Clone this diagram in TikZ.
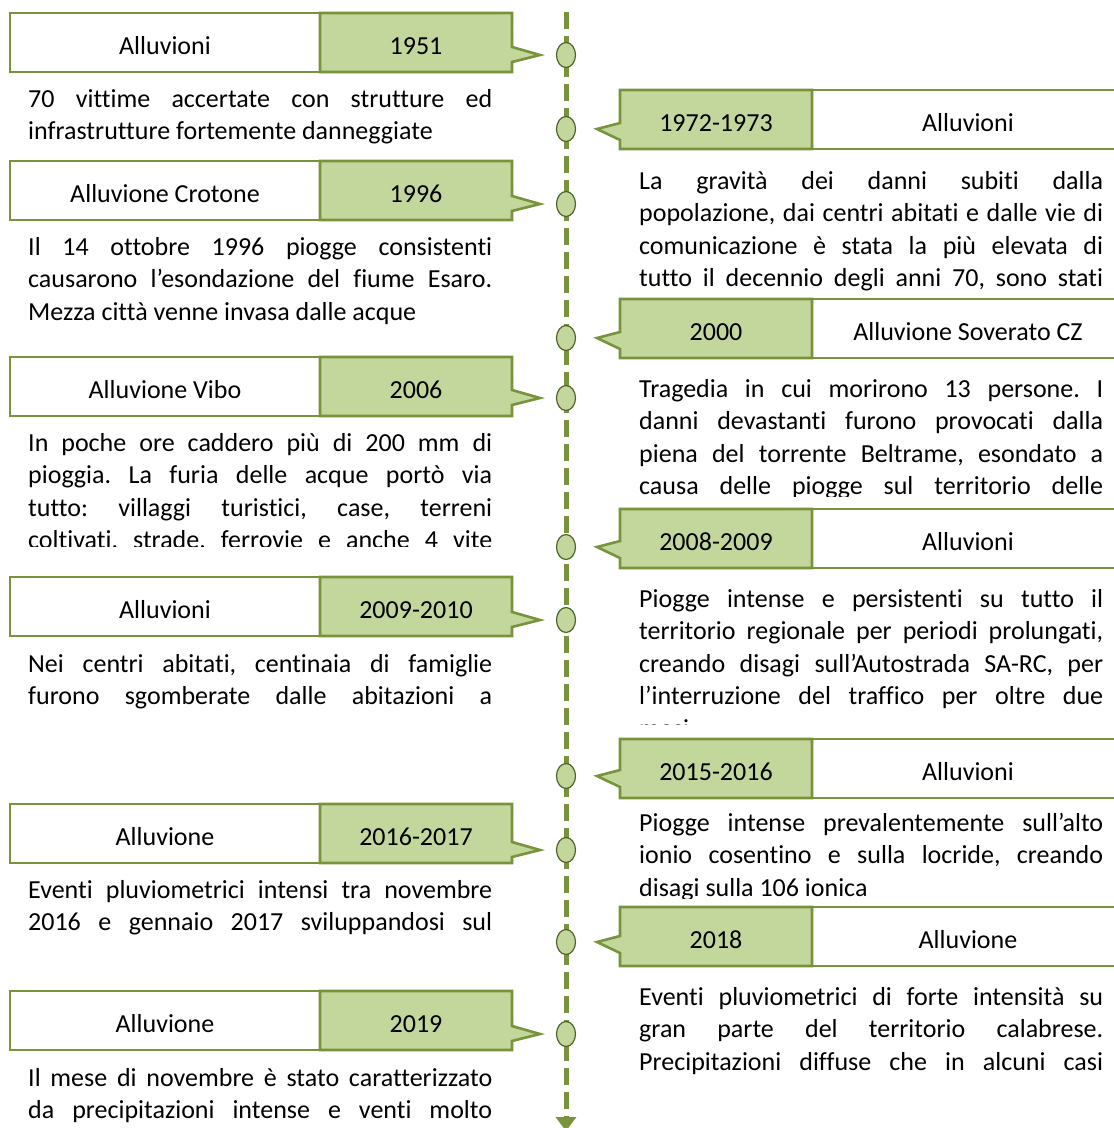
\documentclass[tikz,border=0pt]{standalone}
\usepackage{fontspec}
\setmainfont{Carlito}[Ligatures=NoCommon]
\usetikzlibrary{positioning, shapes.geometric, arrows.meta}

\definecolor{tlgreen}{HTML}{77933C}
\definecolor{tlfill}{HTML}{C3D69B}
\definecolor{tldark}{HTML}{4F6228}

\hyphenpenalty=10000
\exhyphenpenalty=10000
\frenchspacing

\tikzset{
  boxline/.style={draw=tlgreen, line width=2.6pt},
  hdr/.style={font=\fontsize{26}{32.5}\selectfont, inner sep=0pt},
  desc/.style={font=\fontsize{26}{32.5}\selectfont, text width=464pt, align=justify, inner sep=0pt, anchor=north west},
  marker/.style={ellipse, draw=tldark, fill=tlfill, line width=1.2pt, minimum width=19pt, minimum height=25pt, inner sep=0pt},
  timeline/.style={draw=tlgreen, line width=5pt, dash pattern=on 17pt off 7pt}
}

% #1 name, #2 box top, #3 marker y, #4 title, #5 year, #6 first line y, #7 clip bottom, #8 text
\newcommand{\evleft}[8]{%
  \draw[boxline, fill=white] (10,#2) rectangle (320,#2+59);
  \draw[boxline, fill=tlfill] (320,#2) -- (512,#2) -- (512,#3-8) -- (540,#3) -- (512,#3+7) -- (512,#2+59) -- (320,#2+59) -- cycle;
  \node[hdr] (#1-title) at (165,#2+33) {#4};
  \node[hdr] (#1-year) at (416,#2+33) {#5};
  \begin{scope}
    \clip (0,#2+62) rectangle (560,#7);
    \node[desc] (#1-text) at (28,#6-13.75) {\strut #8};
  \end{scope}
}
\newcommand{\evright}[8]{%
  \draw[boxline, fill=white] (812,#2) rectangle (1124,#2+59);
  \draw[boxline, fill=tlfill] (812,#2) -- (620,#2) -- (620,#3-6) -- (597,#3) -- (620,#3+11) -- (620,#2+59) -- (812,#2+59) -- cycle;
  \node[hdr] (#1-year) at (716,#2+33) {#5};
  \node[hdr] (#1-title) at (968,#2+33) {#4};
  \begin{scope}
    \clip (590,#2+62) rectangle (1114,#7);
    \node[desc] (#1-text) at (639,#6-13.75) {\strut #8};
  \end{scope}
}

\begin{document}
\begin{tikzpicture}[x=1pt, y=-1pt]
\useasboundingbox (0,0) rectangle (1114,1128);

% timeline
\coordinate (tl-top) at (566,12);
\coordinate (tl-end) at (566,1131);
\draw[timeline, -{Triangle[width=20pt,length=14pt]}] (tl-top) -- (tl-end);
\foreach \y [count=\i] in {55,129,204,338,398,547,620,776,850,942,1034}
  \node[marker] (m\i) at (566,\y) {};

% left side
\evleft{e1951}{13}{55}{Alluvioni}{1951}{98}{160}{70 vittime accertate con strutture ed\linebreak infrastrutture fortemente danneggiate}
\evleft{e1996}{161}{204}{Alluvione Crotone}{1996}{246}{350}{Il 14 ottobre 1996 piogge consistenti\linebreak causarono l’esondazione del fiume Esaro.\linebreak Mezza città venne invasa dalle acque}
\evleft{e2006}{357}{398}{Alluvione Vibo}{2006}{442}{546}{In poche ore caddero più di 200 mm di\linebreak pioggia. La furia delle acque portò via\linebreak tutto: villaggi turistici, case, terreni\linebreak coltivati, strade, ferrovie e anche 4 vite\linebreak}
\evleft{e2009}{577}{620}{Alluvioni}{2009-2010}{663}{712}{Nei centri abitati, centinaia di famiglie\linebreak furono sgomberate dalle abitazioni a\linebreak}
\evleft{e2016}{804}{850}{Alluvione}{2016-2017}{889}{940}{Eventi pluviometrici intensi tra novembre\linebreak 2016 e gennaio 2017 sviluppandosi sul\linebreak}
\evleft{e2019}{991}{1034}{Alluvione}{2019}{1077}{1128}{Il mese di novembre è stato caratterizzato\linebreak da precipitazioni intense e venti molto\linebreak}

% right side
\evright{e1972}{90}{129}{Alluvioni}{1972-1973}{180}{292}{La gravità dei danni subiti dalla\linebreak popolazione, dai centri abitati e dalle vie di\linebreak comunicazione è stata la più elevata di\linebreak tutto il decennio degli anni 70, sono stati\linebreak}
\evright{e2000}{299}{338}{Alluvione Soverato CZ}{2000}{388}{496}{Tragedia in cui morirono 13 persone. I\linebreak danni devastanti furono provocati dalla\linebreak piena del torrente Beltrame, esondato a\linebreak causa delle piogge sul territorio delle\linebreak}
\evright{e2008}{509}{547}{Alluvioni}{2008-2009}{598}{724}{Piogge intense e persistenti su tutto il\linebreak territorio regionale per periodi prolungati,\linebreak creando disagi sull’Autostrada SA-RC, per\linebreak l’interruzione del traffico per oltre due\linebreak mesi}
\evright{e2015}{739}{776}{Alluvioni}{2015-2016}{822}{898}{Piogge intense prevalentemente sull’alto\linebreak ionio cosentino e sulla locride, creando\linebreak disagi sulla 106 ionica}
\evright{e2018}{907}{942}{Alluvione}{2018}{996}{1100}{Eventi pluviometrici di forte intensità su\linebreak gran parte del territorio calabrese.\linebreak Precipitazioni diffuse che in alcuni casi\linebreak}

\end{tikzpicture}
\end{document}
